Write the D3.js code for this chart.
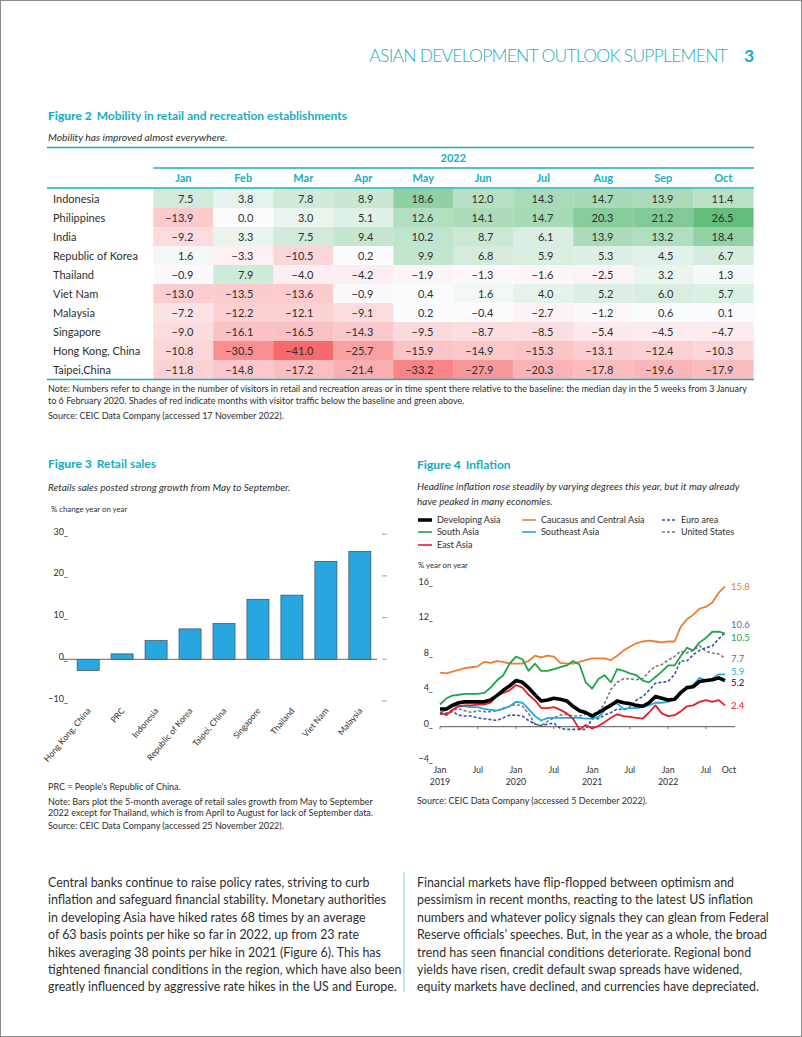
<!DOCTYPE html>
<html><head><meta charset="utf-8">
<script src="https://cdn.jsdelivr.net/npm/d3@7"></script>
<style>
body{margin:0;background:#fff;}
svg{display:block;font-family:Lato,"Open Sans",sans-serif;}
</style></head><body>
<svg id="page" width="802" height="1037"></svg>
<script>
// ---------- Figure 2 data ----------
const mobilityMonths = ["Jan","Feb","Mar","Apr","May","Jun","Jul","Aug","Sep","Oct"];
const mobilityEconomies = ["Indonesia","Philippines","India","Republic of Korea","Thailand","Viet Nam","Malaysia","Singapore","Hong Kong, China","Taipei,China"];
const mobIndonesia   = [7.5,3.8,7.8,8.9,18.6,12.0,14.3,14.7,13.9,11.4];
const mobPhilippines = [-13.9,0.0,3.0,5.1,12.6,14.1,14.7,20.3,21.2,26.5];
const mobIndia       = [-9.2,3.3,7.5,9.4,10.2,8.7,6.1,13.9,13.2,18.4];
const mobKorea       = [1.6,-3.3,-10.5,0.2,9.9,6.8,5.9,5.3,4.5,6.7];
const mobThailand    = [-0.9,7.9,-4.0,-4.2,-1.9,-1.3,-1.6,-2.5,3.2,1.3];
const mobVietNam     = [-13.0,-13.5,-13.6,-0.9,0.4,1.6,4.0,5.2,6.0,5.7];
const mobMalaysia    = [-7.2,-12.2,-12.1,-9.1,0.2,-0.4,-2.7,-1.2,0.6,0.1];
const mobSingapore   = [-9.0,-16.1,-16.5,-14.3,-9.5,-8.7,-8.5,-5.4,-4.5,-4.7];
const mobHongKong    = [-10.8,-30.5,-41.0,-25.7,-15.9,-14.9,-15.3,-13.1,-12.4,-10.3];
const mobTaipei      = [-11.8,-14.8,-17.2,-21.4,-33.2,-27.9,-20.3,-17.8,-19.6,-17.9];
const mobilityRows = [mobIndonesia,mobPhilippines,mobIndia,mobKorea,mobThailand,mobVietNam,mobMalaysia,mobSingapore,mobHongKong,mobTaipei];

// ---------- Figure 3 data ----------
const retailEconomies = ["Hong Kong, China","PRC","Indonesia","Republic of Korea","Taipei, China","Singapore","Thailand","Viet Nam","Malaysia"];
const retailGrowth = [-2.7,1.3,4.5,7.3,8.6,14.4,15.4,23.5,25.9];
const retailTicks = [-10,0,10,20,30];

// ---------- Figure 4 data (monthly, Jan 2019 - Oct 2022) ----------
const inflStart = "2019-01";
const inflDevelopingAsia = [2.0,2.0,2.4,2.7,2.8,2.8,2.8,2.8,3.0,3.5,4.1,4.6,5.2,5.0,4.4,3.6,2.9,3.0,3.2,3.1,2.9,2.3,1.8,1.6,1.2,1.6,2.0,2.4,2.9,2.7,2.6,2.4,2.3,2.7,3.4,3.2,3.0,3.1,3.8,4.4,4.5,5.1,5.2,5.3,5.5,5.2];
const inflCaucasus = [6.1,6.0,6.2,6.4,6.6,6.7,6.8,7.3,7.2,7.4,7.3,7.1,7.1,7.1,7.4,8.0,7.8,8.0,7.9,7.2,7.1,7.1,7.3,7.5,7.7,7.7,7.7,7.5,8.0,8.6,9.0,9.4,9.6,9.7,9.6,9.5,9.6,9.6,11.2,12.1,12.6,13.3,13.5,14.0,15.1,15.8];
const inflSouthAsia = [2.5,3.2,3.5,3.6,3.7,3.7,3.7,3.8,4.4,5.2,5.8,7.1,7.9,7.6,6.3,7.1,6.3,6.3,6.5,6.7,6.9,7.4,7.0,5.0,4.3,5.4,5.8,5.0,6.5,6.3,6.0,5.8,5.2,5.0,5.6,6.2,6.9,6.9,7.9,8.9,8.6,9.5,10.0,10.7,10.7,10.5];
const inflSoutheastAsia = [1.6,1.9,2.3,2.4,2.3,2.2,2.2,2.0,1.9,1.8,2.0,2.3,2.8,2.7,2.0,1.2,0.7,1.0,1.0,1.0,1.0,1.0,1.0,0.9,0.9,1.1,1.8,2.6,2.6,2.0,2.1,2.1,2.2,2.4,2.7,2.7,2.8,3.1,3.8,4.3,4.7,5.5,5.2,5.4,5.9,5.9];
const inflEastAsia = [1.6,1.3,1.9,2.3,2.4,2.4,2.5,2.5,2.7,3.5,3.8,4.1,4.7,4.4,3.6,3.0,2.1,2.1,2.2,1.9,1.5,0.9,-0.3,0.2,-0.2,0.1,0.5,1.0,1.4,1.2,1.1,1.0,0.9,1.6,2.4,1.5,1.2,1.3,1.7,2.3,2.4,2.8,3.0,2.8,3.0,2.4];
const inflEuroArea = [1.4,1.5,1.7,1.3,1.2,1.2,1.0,0.9,0.8,0.7,1.0,1.3,1.3,1.2,0.7,0.3,0.1,0.3,0.4,-0.2,-0.3,-0.3,-0.3,-0.3,0.9,0.9,1.3,1.6,2.0,1.9,2.2,3.0,3.4,4.1,4.9,5.0,5.1,5.9,7.4,7.4,8.1,8.6,8.9,9.1,9.9,10.6];
const inflUnitedStates = [1.6,1.5,1.9,2.0,1.8,1.6,1.8,1.7,1.7,1.8,2.1,2.3,2.5,2.3,1.5,0.3,0.1,0.6,1.0,1.3,1.4,1.2,1.2,1.4,1.4,1.7,2.6,4.2,5.0,5.4,5.4,5.3,5.4,6.2,6.8,7.0,7.5,7.9,8.5,8.3,8.6,9.1,8.5,8.3,8.2,7.7];
const inflTicks = [-4,0,4,8,12,16];

// ---------- page ----------
const svg = d3.select("#page");
const teal = "#19aec3";
const ink = "#2e2e2e";

svg.append("rect").attr("x",0.5).attr("y",0.5).attr("width",801).attr("height",1036)
  .attr("fill","#fff").attr("stroke","#8a8a8a");

// header
svg.append("text").attr("x",727).attr("y",62).attr("text-anchor","end")
  .attr("font-size",17.5).attr("font-weight",300).attr("fill",teal).attr("letter-spacing",-0.75)
  .text("ASIAN DEVELOPMENT OUTLOOK SUPPLEMENT");
svg.append("text").attr("x",744).attr("y",62).attr("font-size",17.5).attr("font-weight",700)
  .attr("fill",teal).text("3");

function figTitle(x, y, num, rest){
  const t = svg.append("text").attr("x",x).attr("y",y).attr("font-size",12).attr("fill",teal);
  t.append("tspan").attr("font-weight",900).text(num);
  t.append("tspan").attr("font-weight",700).attr("dx",5).text(rest);
}
function addText(x, y, str, size, opts={}){
  return svg.append("text").attr("x",x).attr("y",y).attr("font-size",size)
    .attr("fill",opts.fill||ink).attr("font-style",opts.italic?"italic":null)
    .attr("font-weight",opts.weight||null).attr("text-anchor",opts.anchor||null).text(str);
}

// ================= Figure 2 =================
figTitle(48,120,"Figure 2","Mobility in retail and recreation establishments");
addText(48,141,"Mobility has improved almost everywhere.",10.3,{italic:true});

const tLeft = 47, tRight = 754, colStart = 153.3;
const xCol = d3.scaleBand().domain(mobilityMonths).range([colStart, 753.3]);
const yRow = d3.scaleBand().domain(mobilityEconomies).range([189, 379]);
const allMob = mobilityRows.flat();
const heat = d3.scaleLinear().domain([d3.min(allMob),0,d3.max(allMob)])
  .range(["#F8696B","#FCFCFF","#63BE7B"]);
const fmt1 = d3.format(".1f");

svg.append("line").attr("x1",tLeft).attr("x2",tRight).attr("y1",147.5).attr("y2",147.5)
  .attr("stroke",teal).attr("stroke-width",1.5);
addText((colStart+753.3)/2,162,"2022",11,{fill:teal,anchor:"middle",weight:700});
svg.append("line").attr("x1",colStart).attr("x2",tRight).attr("y1",168).attr("y2",168)
  .attr("stroke",teal).attr("stroke-width",1.5);
mobilityMonths.forEach(m=>{
  addText(xCol(m)+xCol.bandwidth()/2,182,m,11,{fill:teal,anchor:"middle",weight:700});
});
svg.append("line").attr("x1",tLeft).attr("x2",tRight).attr("y1",188).attr("y2",188)
  .attr("stroke",teal).attr("stroke-width",1.5);

const cells = [];
mobilityEconomies.forEach((e,i)=>mobilityMonths.forEach((m,j)=>cells.push({e,m,v:mobilityRows[i][j]})));
svg.append("g").selectAll("rect").data(cells).join("rect")
  .attr("x",d=>xCol(d.m)).attr("y",d=>yRow(d.e))
  .attr("width",xCol.bandwidth()+0.3).attr("height",yRow.bandwidth()+0.3)
  .attr("fill",d=>heat(d.v));
svg.append("g").selectAll("text").data(cells).join("text")
  .attr("x",d=>xCol(d.m)+40).attr("y",d=>yRow(d.e)+13.5)
  .attr("text-anchor","end").attr("font-size",11).attr("fill",ink)
  .text(d=>fmt1(d.v));
mobilityEconomies.forEach(e=>addText(53,yRow(e)+13.5,e,11));
svg.append("line").attr("x1",tLeft).attr("x2",tRight).attr("y1",379.5).attr("y2",379.5)
  .attr("stroke",teal).attr("stroke-width",1.5);
addText(48,392,"Note: Numbers refer to change in the number of visitors in retail and recreation areas or in time spent there relative to the baseline: the median day in the 5 weeks from 3 January",9.0);
addText(48,403.5,"to 6 February 2020. Shades of red indicate months with visitor traffic below the baseline and green above.",9.0);
addText(48,419,"Source: CEIC Data Company (accessed 17 November 2022).",9.0);

// ================= Figure 3 =================
figTitle(48,468,"Figure 3","Retail sales");
addText(48,491,"Retails sales posted strong growth from May to September.",10,{italic:true});
addText(51,512,"% change year on year",7.8);

const xb = d3.scaleBand().domain(retailEconomies).range([71,377]).paddingInner(0.35).paddingOuter(0.18);
const yb = d3.scaleLinear().domain([-10,30]).range([701,534.2]);
const fmt0 = d3.format("d");
retailTicks.forEach(t=>{
  addText(68,yb(t)+0.5,fmt0(t)+"_",9,{anchor:"end"});
  svg.append("line").attr("x1",382).attr("x2",387).attr("y1",yb(t)).attr("y2",yb(t))
    .attr("stroke","#888").attr("stroke-width",0.8);
});
svg.append("g").selectAll("rect").data(retailEconomies).join("rect")
  .attr("x",d=>xb(d)).attr("width",xb.bandwidth())
  .attr("y",(d,i)=>yb(Math.max(0,retailGrowth[i])))
  .attr("height",(d,i)=>Math.abs(yb(retailGrowth[i])-yb(0)))
  .attr("fill","#28a6df").attr("stroke","#3a3a3a").attr("stroke-width",0.6);
svg.append("line").attr("x1",63).attr("x2",377).attr("y1",yb(0)).attr("y2",yb(0))
  .attr("stroke","#666").attr("stroke-width",1);
svg.append("g").selectAll("text").data(retailEconomies).join("text")
  .attr("transform",d=>`translate(${xb(d)+xb.bandwidth()/2+3},711) rotate(-50)`)
  .attr("text-anchor","end").attr("font-size",8.5).attr("fill",ink).text(d=>d);
addText(48,790,"PRC = People’s Republic of China.",9.0);
addText(48,804.5,"Note: Bars plot the 5-month average of retail sales growth from May to September",9.0);
addText(48,816,"2022 except for Thailand, which is from April to August for lack of September data.",9.0);
addText(48,829,"Source: CEIC Data Company (accessed 25 November 2022).",9.0);

// ================= Figure 4 =================
figTitle(417,469,"Figure 4","Inflation");
addText(417,490,"Headline inflation rose steadily by varying degrees this year, but it may already",10,{italic:true});
addText(417,504.5,"have peaked in many economies.",10,{italic:true});

const series = [
  {name:"United States", values:inflUnitedStates, color:"#7a7a7a", width:1.6, dash:"3,2", labelColor:"#6d6d6d", dy:0},
  {name:"Euro area", values:inflEuroArea, color:"#2f58a0", width:1.6, dash:"3,2", labelColor:"#4a73c0", dy:-8},
  {name:"Caucasus and Central Asia", values:inflCaucasus, color:"#ee7d31", width:1.8, dash:null, labelColor:"#ee7d31", dy:0},
  {name:"South Asia", values:inflSouthAsia, color:"#1fa54c", width:1.8, dash:null, labelColor:"#1fa54c", dy:4},
  {name:"Southeast Asia", values:inflSoutheastAsia, color:"#22a9e1", width:1.8, dash:null, labelColor:"#35aee3", dy:-2.5},
  {name:"East Asia", values:inflEastAsia, color:"#e41f2b", width:1.8, dash:null, labelColor:"#e41f2b", dy:0},
  {name:"Developing Asia", values:inflDevelopingAsia, color:"#000", width:3.6, dash:null, labelColor:"#111", dy:1.5}
];
const startDate = d3.timeParse("%Y-%m")(inflStart);
const dates = inflDevelopingAsia.map((_,i)=>d3.timeMonth.offset(startDate,i));
const xl = d3.scaleTime().domain([dates[0],dates[dates.length-1]]).range([440,725]);
const yl = d3.scaleLinear().domain([-4,16]).range([762.2,584.7]);

// legend
const legendItems = [
  {s:"Developing Asia",x:418,y:520},{s:"Caucasus and Central Asia",x:522,y:520},{s:"Euro area",x:662,y:520},
  {s:"South Asia",x:418,y:532},{s:"Southeast Asia",x:522,y:532},{s:"United States",x:662,y:532},
  {s:"East Asia",x:418,y:545}
];
legendItems.forEach(li=>{
  const s = series.find(d=>d.name===li.s);
  svg.append("line").attr("x1",li.x).attr("x2",li.x+14).attr("y1",li.y).attr("y2",li.y)
    .attr("stroke",s.color).attr("stroke-width",s.width>3?3.5:1.6).attr("stroke-dasharray",s.dash);
  addText(li.x+19,li.y+3.2,li.s,9);
});
addText(418,568,"% year on year",7.8);

inflTicks.forEach(t=>addText(433,yl(t),fmt0(t)+"_",9,{anchor:"end"}));
svg.append("line").attr("x1",440).attr("x2",735).attr("y1",yl(0)).attr("y2",yl(0))
  .attr("stroke","#555").attr("stroke-width",1);
const tickDates = d3.timeMonth.every(6).range(dates[0], d3.timeMonth.offset(dates[dates.length-1],1));
tickDates.forEach(d=>{
  svg.append("line").attr("x1",xl(d)).attr("x2",xl(d)).attr("y1",yl(0)).attr("y2",yl(0)+2.5)
    .attr("stroke","#555").attr("stroke-width",0.8);
  const isJan = d.getMonth()===0;
  addText(xl(d),773,isJan?"Jan":"Jul",8.8,{anchor:"middle"});
  if(isJan) addText(xl(d),784.5,d3.timeFormat("%Y")(d),8.8,{anchor:"middle"});
});
addText(xl(dates[dates.length-1])+4,773,"Oct",8.8,{anchor:"middle"});

const lineGen = d3.line().x((d,i)=>xl(dates[i])).y(d=>yl(d)).curve(d3.curveLinear);
series.forEach(s=>{
  svg.append("path").datum(s.values).attr("d",lineGen).attr("fill","none")
    .attr("stroke",s.color).attr("stroke-width",s.width).attr("stroke-dasharray",s.dash)
    .attr("stroke-linejoin","round");
});
const fmtEnd = d3.format(".1f");
series.forEach(s=>{
  const v = s.values[s.values.length-1];
  addText(731,yl(v)+3.5+s.dy,fmtEnd(v),9.5,{fill:s.labelColor});
});
addText(417,804,"Source: CEIC Data Company (accessed 5 December 2022).",9.0);

// ================= Body text =================
const leftPara = [
  "Central banks continue to raise policy rates, striving to curb",
  "inflation and safeguard financial stability. Monetary authorities",
  "in developing Asia have hiked rates 68 times by an average",
  "of 63 basis points per hike so far in 2022, up from 23 rate",
  "hikes averaging 38 points per hike in 2021 (Figure 6). This has",
  "tightened financial conditions in the region, which have also been",
  "greatly influenced by aggressive rate hikes in the US and Europe."
];
const rightPara = [
  "Financial markets have flip-flopped between optimism and",
  "pessimism in recent months, reacting to the latest US inflation",
  "numbers and whatever policy signals they can glean from Federal",
  "Reserve officials’ speeches. But, in the year as a whole, the broad",
  "trend has seen financial conditions deteriorate. Regional bond",
  "yields have risen, credit default swap spreads have widened,",
  "equity markets have declined, and currencies have depreciated."
];
leftPara.forEach((l,i)=>addText(48,887+i*17.4,l,12.4));
rightPara.forEach((l,i)=>addText(417,887+i*17.4,l,12.4));
svg.append("line").attr("x1",404).attr("x2",404).attr("y1",872).attr("y2",992)
  .attr("stroke","#7ccfdc").attr("stroke-width",1);
</script>
</body></html>
